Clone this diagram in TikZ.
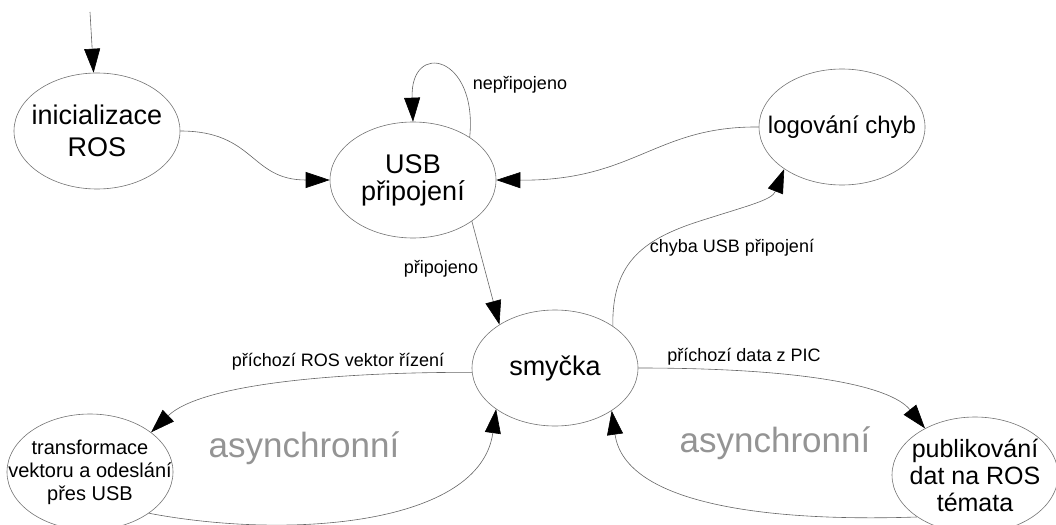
\documentclass[tikz,border=0pt]{standalone}
\usepackage{fontspec}
\setmainfont{Liberation Sans}
\usetikzlibrary{arrows.meta,shapes.geometric}
\begin{document}
\begin{tikzpicture}[x=1pt,y=-1pt,
  state/.style={ellipse, draw=black!55, line width=0.6pt, minimum width=166pt, minimum height=116pt, inner sep=0pt},
  nodetext/.style={align=center, inner sep=0pt},
  edge/.style={draw=black!60, line width=0.6pt, -{Triangle[length=24pt,width=16pt,color=black]}},
  elabel/.style={font=\fontsize{18}{22}\selectfont, anchor=base, inner sep=0pt},
  async/.style={font=\fontsize{35}{40}\selectfont, text=black!42, anchor=base, inner sep=0pt}]
\useasboundingbox (0,0) rectangle (1056,524);

% states
\node[state] (init) at (97,131) {};
\node[nodetext, font=\fontsize{27}{32}\selectfont] (init-t) at (init) {inicializace\\ROS};
\node[state] (usb) at (413,180) {};
\node[nodetext, font=\fontsize{27}{27}\selectfont] (usb-t) at (usb) {USB\\připojení};
\node[state] (log) at (842,127) {};
\node[nodetext, font=\fontsize{24}{28}\selectfont] (log-t) at (log) {logování chyb};
\node[state] (loop) at (555,368) {};
\node[nodetext, font=\fontsize{27}{32}\selectfont] (loop-t) at (loop) {smyčka};
\node[state] (trans) at (90,472) {};
\node[nodetext, font=\fontsize{20}{23}\selectfont] (trans-t) at (trans) {transformace\\vektoru a odeslání\\přes USB};
\node[state] (pub) at (975,475) {};
\node[nodetext, font=\fontsize{25}{27}\selectfont] (pub-t) at (pub) {publikování\\dat na ROS\\témata};

% edges
\coordinate (start) at (90,12);
\draw[edge] (start) -- (init);
\draw[edge] (init.east) .. controls (255,131) and (250,180) .. (usb.west);
\draw[edge] (usb.37) .. controls (478,55) and (410,40) .. (usb.north);
\node[elabel] (l-np) at (520,90) {nepřipojeno};
\draw[edge] (log.west) .. controls (655,126) and (635,181) .. (usb.east);
\draw[edge] (usb.-35) -- (loop.142);
\node[elabel] (l-p) at (441,273) {připojeno};
\draw[edge] (loop.36) .. controls (612,265) and (640,240) .. (700,221) .. controls (750,205) and (772,200) .. (log.-144);
\node[elabel] (l-ch) at (732,252) {chyba USB připojení};
\draw[edge] (loop.183) .. controls (330,372) and (200,385) .. (trans.33);
\node[elabel] (l-ros) at (338,366) {příchozí ROS vektor řízení};
\draw[edge] (trans.-35) .. controls (290,540) and (480,525) .. (loop.-145);
\draw[edge] (loop.east) .. controls (800,368) and (890,385) .. (pub.137);
\node[elabel] (l-pic) at (744,361) {příchozí data z PIC};
\draw[edge] (pub.-144) .. controls (770,522) and (625,505) .. (loop.-37);

% annotations
\node[async] (a1) at (304,457) {asynchronní};
\node[async] (a2) at (775,452) {asynchronní};
\end{tikzpicture}
\end{document}
